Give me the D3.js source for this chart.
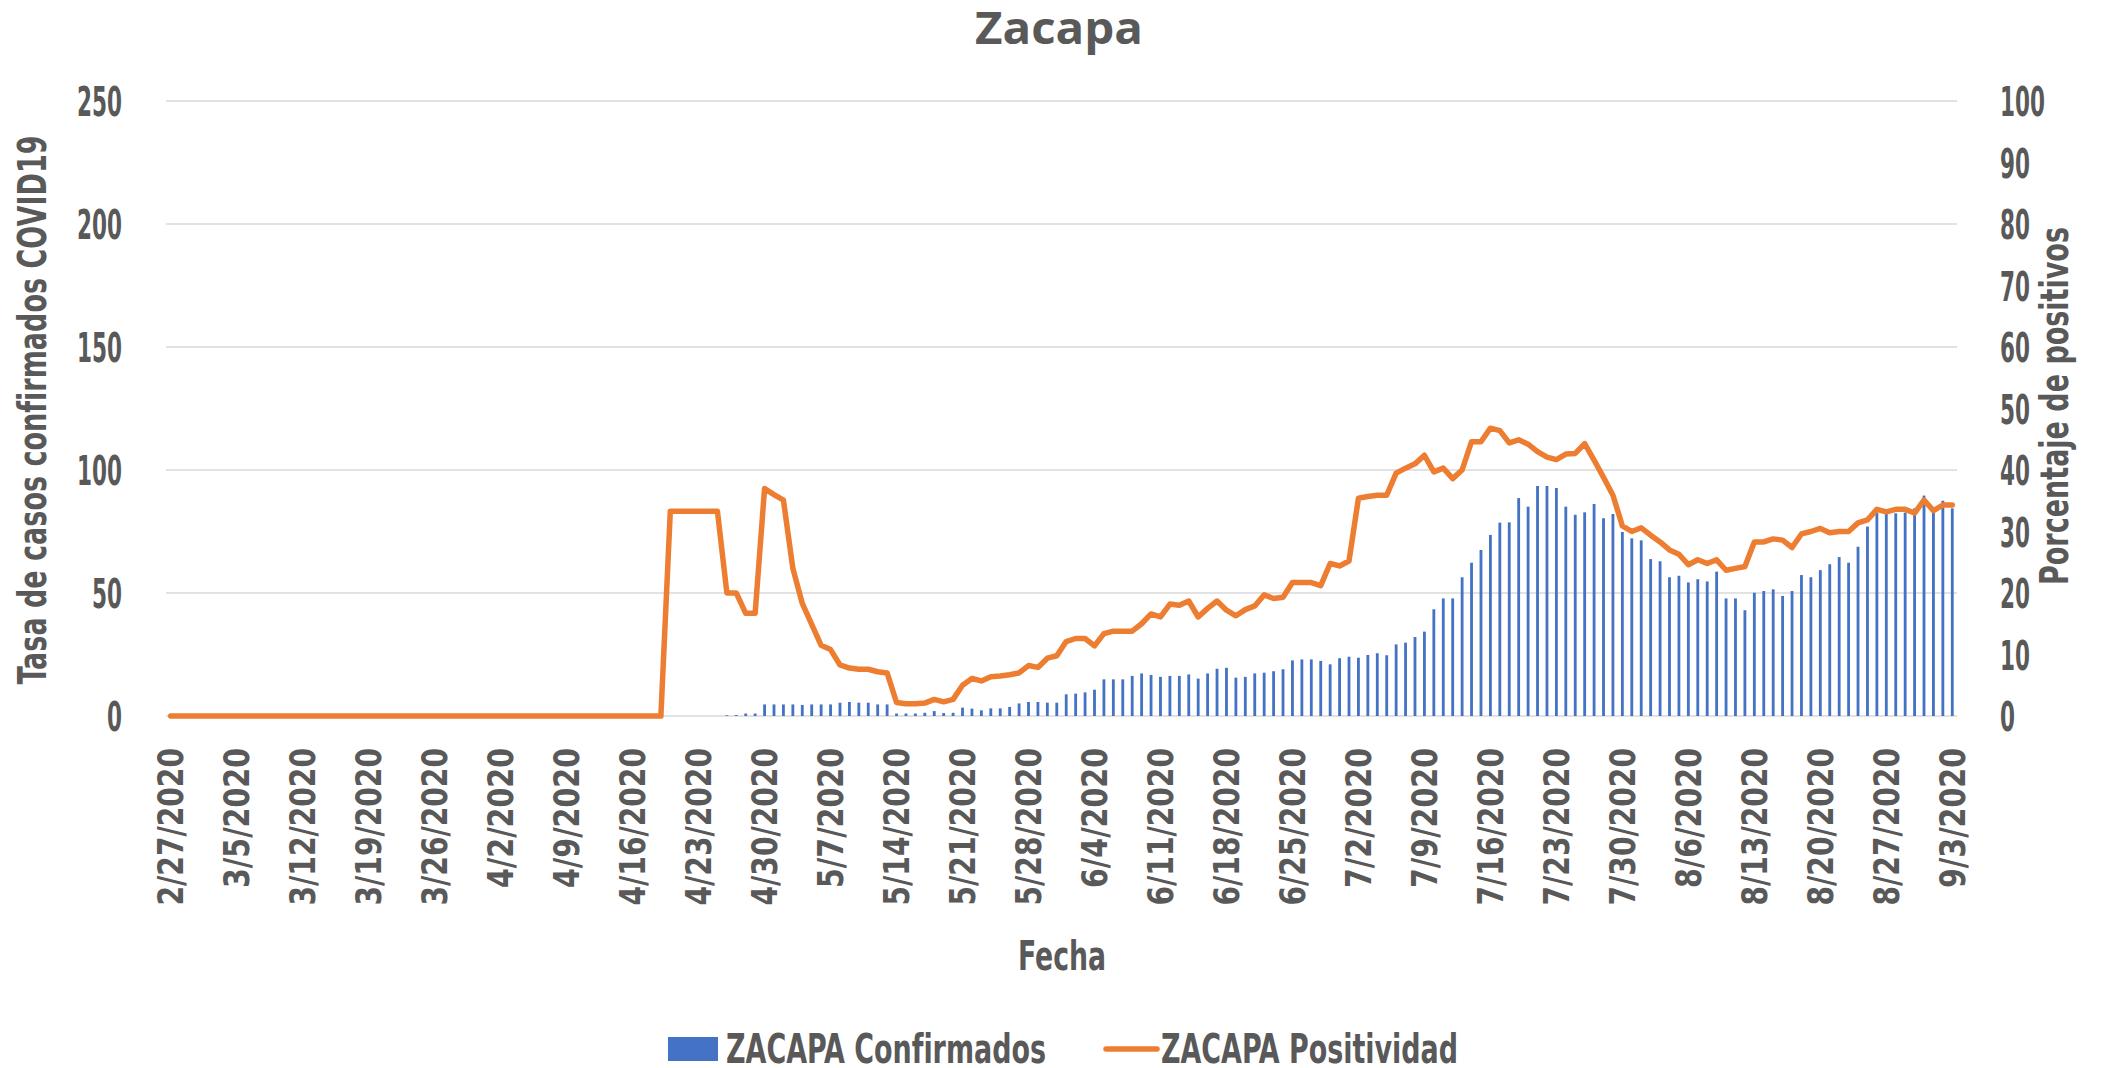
<!DOCTYPE html>
<html lang="es">
<head>
    <meta charset="UTF-8">
    <title>Zacapa</title>
    <script src="https://d3js.org/d3.v7.min.js"></script>
    <style>
        body { margin: 0; background: #fff; }
        .cond { font-family: 'Liberation Sans Narrow', 'DejaVu Sans Condensed', 'DejaVu Sans', sans-serif; font-weight: bold; font-stretch: condensed; fill: #595959; }
        .wide { font-family: 'DejaVu Sans', sans-serif; font-weight: bold; fill: #595959; }
    </style>
</head>
<body>
<div id="chart"></div>
<script>
    // daily categories, 2/27/2020 .. 9/3/2020
    const startDay = new Date(2020, 1, 27);
    const endDay = new Date(2020, 8, 4);

    const tickLabels = ["2/27/2020", "3/5/2020", "3/12/2020", "3/19/2020", "3/26/2020", "4/2/2020",
        "4/9/2020", "4/16/2020", "4/23/2020", "4/30/2020", "5/7/2020", "5/14/2020", "5/21/2020",
        "5/28/2020", "6/4/2020", "6/11/2020", "6/18/2020", "6/25/2020", "7/2/2020", "7/9/2020",
        "7/16/2020", "7/23/2020", "7/30/2020", "8/6/2020", "8/13/2020", "8/20/2020", "8/27/2020", "9/3/2020"];

    // tasa de casos confirmados (left axis)
    const confirmados = [
        0,0,0,0,0,0,0,0,0,0, 0,0,0,0,0,0,0,0,0,0, 0,0,0,0,0,0,0,0,0,0,
        0,0,0,0,0,0,0,0,0,0, 0,0,0,0,0,0,0,0,0,0, 0,0,0,0,0,0,0,0,0,
        0.3, 0.4, 1.0, 1.0, 4.7, 4.7, 4.7, 4.7, 4.5, 4.7, 4.7, 4.7, 5.4, 5.7, 5.4, 5.4, 4.7, 4.7,
        1.0, 1.0, 1.0, 1.3, 2.0, 1.2, 1.3, 3.4, 3.0, 2.3, 3.1,
        3.1, 3.7, 5.1, 5.7, 5.7, 5.4, 5.4, 8.8, 9.1, 9.6, 10.7, 14.9, 14.9, 14.9, 16.3, 17.3, 16.7,
        15.9, 16.3, 16.3, 16.9, 15.2, 17.3, 19.2, 19.6, 15.6, 15.9, 17.3, 17.6, 18.2, 19.0, 22.6,
        23.0, 23.0, 22.4, 21.0, 23.5,
        24.1, 23.7, 24.8, 25.5, 24.7, 29.1, 29.8, 32.1, 34.3, 43.4, 47.8, 47.8, 56.4, 62.3, 67.5,
        73.6, 78.6, 78.7, 88.6, 85.1, 93.5, 93.5, 92.7, 85.1, 81.8, 82.8, 86.2, 80.4, 82.1, 74.8,
        72.2, 71.4, 63.8, 62.9, 56.4, 57.0,
        54.3, 55.6, 54.7, 58.7, 47.8, 47.8, 43.0, 50.1, 50.8, 51.5, 48.8, 50.8, 57.3, 56.4, 59.3,
        61.7, 64.6, 62.3, 68.8, 77.0, 82.7, 82.4, 82.4, 82.7, 84.4, 89.6, 82.8, 87.5, 84.4
    ];

    // porcentaje de positivos (right axis)
    const positividad = [
        0,0,0,0,0,0,0,0,0,0, 0,0,0,0,0,0,0,0,0,0, 0,0,0,0,0,0,0,0,0,0,
        0,0,0,0,0,0,0,0,0,0, 0,0,0,0,0,0,0,0,0,0, 0,0,0,
        33.3, 33.3, 33.3, 33.3, 33.3, 33.3, 20.0, 20.0, 16.7, 16.7, 37.0, 36.0, 35.1, 24.0, 18.3,
        14.9, 11.5, 10.8, 8.3, 7.8, 7.6, 7.6, 7.2, 7.0, 2.2, 2.0, 2.0, 2.1, 2.7, 2.3, 2.7, 5.0,
        6.1, 5.7, 6.4,
        6.5, 6.7, 7.0, 8.2, 7.9, 9.4, 9.8, 12.1, 12.6, 12.6, 11.4, 13.4, 13.8, 13.8, 13.8, 15.0,
        16.6, 16.1, 18.2, 18.0, 18.7, 16.1, 17.5, 18.7, 17.2, 16.3, 17.3, 17.9, 19.7, 19.1, 19.3,
        21.7, 21.7, 21.7, 21.2, 24.8, 24.4,
        25.2, 35.4, 35.7, 35.9, 35.9, 39.5, 40.3, 41.0, 42.4, 39.7, 40.3, 38.6, 40.0, 44.6, 44.6,
        46.8, 46.4, 44.4, 44.9, 44.2, 43.0, 42.1, 41.7, 42.6, 42.7, 44.3, 41.6, 38.8, 35.9, 30.9,
        30.0, 30.6, 29.4, 28.3, 27.0, 26.3,
        24.6, 25.4, 24.8, 25.4, 23.7, 24.0, 24.3, 28.3, 28.3, 28.8, 28.6, 27.4, 29.6, 30.0, 30.5,
        29.8, 30.0, 30.0, 31.4, 31.9, 33.6, 33.2, 33.6, 33.6, 33.0, 35.1, 33.4, 34.3, 34.3
    ];

    const leftTicks = [0, 50, 100, 150, 200, 250];
    const rightTicks = [0, 10, 20, 30, 40, 50, 60, 70, 80, 90, 100];

    const days = d3.timeDay.range(startDay, endDay);
    const fmt = d3.timeFormat("%-m/%-d/%Y");
    const data = days.map((d, i) => ({ key: fmt(d), conf: confirmados[i], pos: positividad[i] }));

    const W = 2123, H = 1068;
    const plot = { left: 166, right: 1957, top: 101, bottom: 716 };
    const grey = "#595959";

    const svg = d3.select("#chart").append("svg")
        .attr("width", W)
        .attr("height", H);

    const x = d3.scaleBand()
        .domain(data.map(d => d.key))
        .range([plot.left, plot.right]);

    const yL = d3.scaleLinear().domain([0, 250]).range([plot.bottom, plot.top]);
    const yR = d3.scaleLinear().domain([0, 100]).range([plot.bottom, plot.top]);

    // gridlines
    svg.append("g")
        .selectAll("line")
        .data(leftTicks)
        .join("line")
            .attr("x1", plot.left)
            .attr("x2", plot.right)
            .attr("y1", d => yL(d))
            .attr("y2", d => yL(d))
            .attr("stroke", "#d9d9d9")
            .attr("stroke-width", 1.5);

    // bars
    const barW = x.bandwidth() * 0.3;
    svg.append("g")
        .selectAll("rect")
        .data(data.filter(d => d.conf > 0))
        .join("rect")
            .attr("x", d => x(d.key) + (x.bandwidth() - barW) / 2)
            .attr("y", d => yL(d.conf))
            .attr("width", barW)
            .attr("height", d => yL(0) - yL(d.conf))
            .attr("fill", "#4472C4");

    // line
    const line = d3.line()
        .x(d => x(d.key) + x.bandwidth() / 2)
        .y(d => yR(d.pos));

    svg.append("path")
        .datum(data)
        .attr("d", line)
        .attr("fill", "none")
        .attr("stroke", "#ED7D31")
        .attr("stroke-width", 5.5)
        .attr("stroke-linejoin", "round")
        .attr("stroke-linecap", "round");

    // helper to squeeze text to a given length
    function fit(sel, len) {
        sel.attr("textLength", len).attr("lengthAdjust", "spacingAndGlyphs");
    }

    // left axis
    const gL = svg.append("g")
        .attr("transform", "translate(" + plot.left + ",0)")
        .call(d3.axisLeft(yL).tickValues(leftTicks).tickSize(0).tickPadding(44));
    gL.select(".domain").remove();
    gL.selectAll("text")
        .attr("class", "cond")
        .attr("font-size", 41)
        .attr("dy", "0.36em")
        .each(function(d) { fit(d3.select(this), String(d).length * 15); });

    // right axis
    const gR = svg.append("g")
        .attr("transform", "translate(" + plot.right + ",0)")
        .call(d3.axisRight(yR).tickValues(rightTicks).tickSize(0).tickPadding(43));
    gR.select(".domain").remove();
    gR.selectAll("text")
        .attr("class", "cond")
        .attr("font-size", 41)
        .attr("dy", "0.36em")
        .each(function(d) { fit(d3.select(this), String(d).length * 15); });

    // bottom axis, one label each week
    const weekKeys = data.filter((d, i) => i % 7 === 0).map(d => d.key);
    const gX = svg.append("g")
        .attr("transform", "translate(0," + plot.bottom + ")")
        .call(d3.axisBottom(x).tickValues(weekKeys).tickSize(0)
            .tickFormat((d, i) => tickLabels[i]));
    gX.select(".domain").remove();
    gX.selectAll("text")
        .attr("class", "wide")
        .attr("font-size", 35)
        .attr("text-anchor", "end")
        .attr("transform", "rotate(-90)")
        .attr("x", -32)
        .attr("y", 0)
        .attr("dy", "0.36em")
        .each(function(d, i) { fit(d3.select(this), tickLabels[i].length * 17.5); });

    // title
    svg.append("text")
        .attr("x", 1059)
        .attr("y", 44)
        .attr("text-anchor", "middle")
        .attr("font-family", "'Open Sans', sans-serif")
        .attr("font-weight", "bold")
        .attr("font-size", 44)
        .attr("fill", grey)
        .text("Zacapa")
        .call(fit, 168);

    // axis titles
    svg.append("text")
        .attr("class", "cond")
        .attr("font-size", 39)
        .attr("text-anchor", "middle")
        .attr("transform", "translate(46,410) rotate(-90)")
        .text("Tasa de casos confirmados COVID19")
        .call(fit, 549);

    svg.append("text")
        .attr("class", "cond")
        .attr("font-size", 39)
        .attr("text-anchor", "middle")
        .attr("transform", "translate(2068,406) rotate(-90)")
        .text("Porcentaje de positivos")
        .call(fit, 358);

    svg.append("text")
        .attr("class", "cond")
        .attr("font-size", 40)
        .attr("text-anchor", "middle")
        .attr("x", 1062)
        .attr("y", 970)
        .text("Fecha")
        .call(fit, 88);

    // legend
    const legend = svg.append("g");
    legend.append("rect")
        .attr("x", 668).attr("y", 1037)
        .attr("width", 50).attr("height", 24)
        .attr("fill", "#4472C4");
    legend.append("text")
        .attr("class", "cond")
        .attr("font-size", 40)
        .attr("x", 726).attr("y", 1063)
        .text("ZACAPA Confirmados")
        .call(fit, 320);
    legend.append("line")
        .attr("x1", 1106).attr("x2", 1157)
        .attr("y1", 1049).attr("y2", 1049)
        .attr("stroke", "#ED7D31")
        .attr("stroke-width", 5.5)
        .attr("stroke-linecap", "round");
    legend.append("text")
        .attr("class", "cond")
        .attr("font-size", 40)
        .attr("x", 1161).attr("y", 1063)
        .text("ZACAPA Positividad")
        .call(fit, 297);
</script>
</body>
</html>
